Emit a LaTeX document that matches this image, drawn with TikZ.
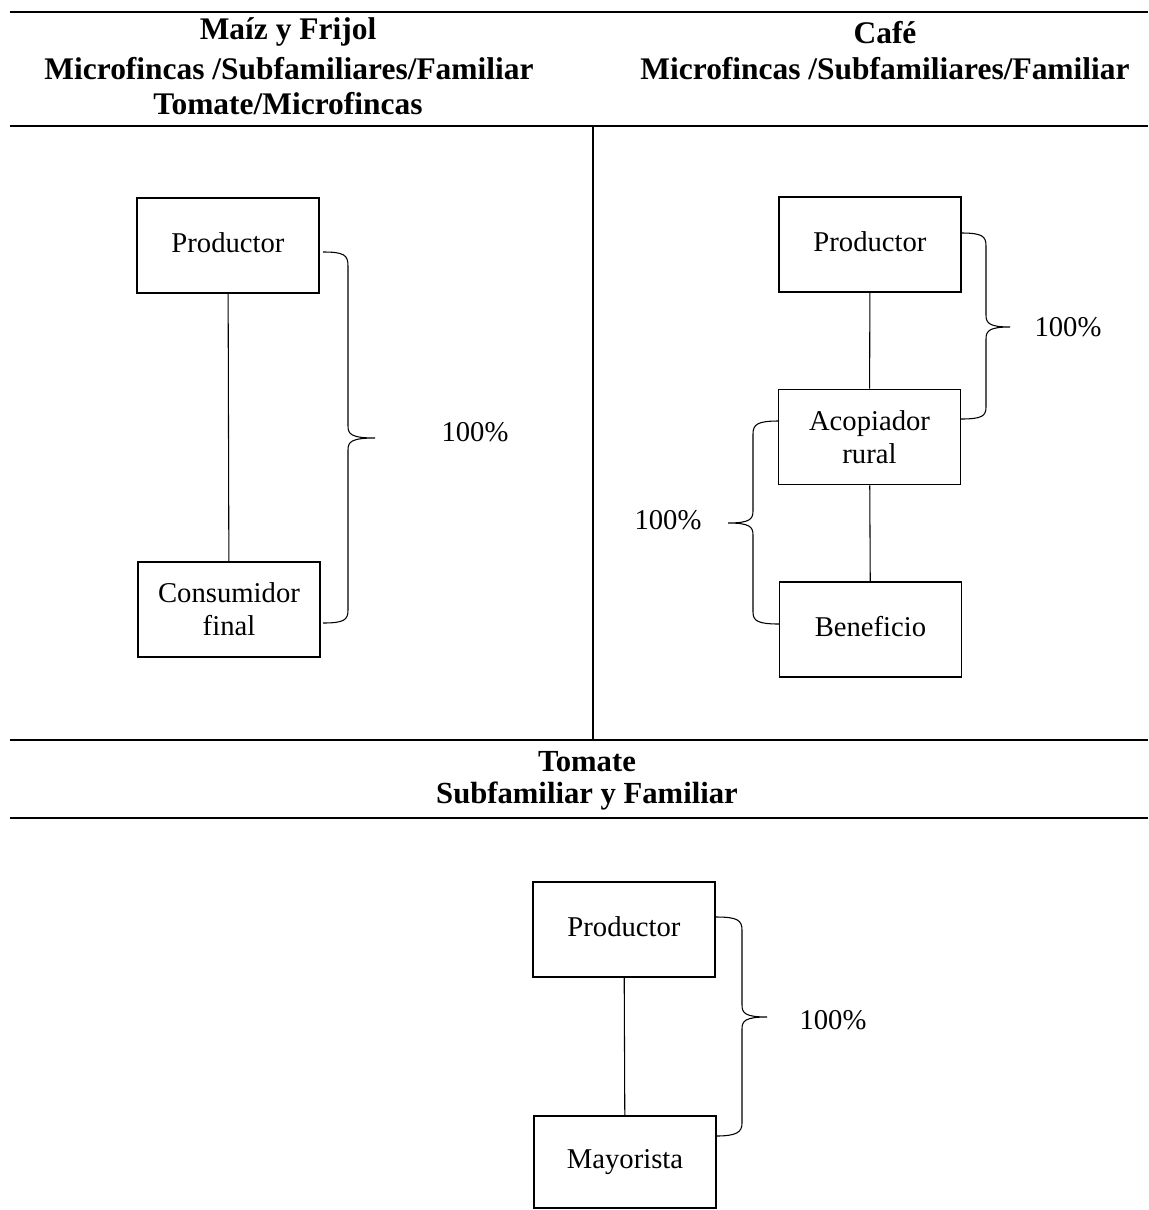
\documentclass[tikz,border=0pt]{standalone}
\usepackage{fontspec}
\setmainfont{Liberation Serif}
\begin{document}
\begin{tikzpicture}[x=0.75pt,y=-0.75pt,
  box/.style={draw,line width=1.1pt,minimum width=136.5pt,minimum height=71.5pt,inner sep=0pt,align=center,font=\fontsize{21.5}{24.5}\selectfont},
  rule/.style={line width=1.6pt},
  conn/.style={line width=0.8pt},
  brace/.style={line width=0.8pt},
  hdr/.style={font=\fontsize{23.6}{25.5}\selectfont\bfseries,inner sep=0pt,anchor=center},
  hdrb/.style={font=\fontsize{23}{25.5}\selectfont\bfseries,inner sep=0pt,anchor=center},
  pct/.style={font=\fontsize{21.5}{24.5}\selectfont,inner sep=0pt}]
\useasboundingbox (0,0) rectangle (1149,1210);
% rules
\coordinate (t1a) at (10,12); \coordinate (t1b) at (1148,12);
\coordinate (t2a) at (10,126); \coordinate (t2b) at (1148,126);
\coordinate (t3a) at (10,740); \coordinate (t3b) at (1148,740);
\coordinate (t4a) at (10,818); \coordinate (t4b) at (1148,818);
\coordinate (va) at (593,127); \coordinate (vb) at (593,739);
\draw[rule] (t1a) -- (t1b);
\draw[rule] (t2a) -- (t2b);
\draw[rule] (t3a) -- (t3b);
\draw[rule] (t4a) -- (t4b);
\draw[rule] (va) -- (vb);
% headers
\node[hdr] (h1) at (288,32) {Maíz y Frijol};
\node[hdr] (h2) at (289,69) {Microfincas /Subfamiliares/Familiar};
\node[hdr] (h3) at (288,104) {Tomate/Microfincas};
\node[hdr] (h4) at (885,33) {Café};
\node[hdr] (h5) at (885,69) {Microfincas /Subfamiliares/Familiar};
\node[hdrb] (h6) at (587,762) {Tomate};
\node[hdrb] (h7) at (587,796) {Subfamiliar y Familiar};
% left diagram
\node[box] (L1) at (228,245.5) {\raisebox{5pt}{Productor}};
\node[box] (L2) at (229,609.5) {Consumidor\\final};
\draw[conn] (L1) -- (L2);
\draw[brace] (323,252) .. controls (344,252) and (348,255) .. (348,266) -- (348,426)
  .. controls (348,434) and (351,438) .. (375,438)
  .. controls (351,438) and (348,442) .. (348,450) -- (348,610)
  .. controls (348,620) and (344,623) .. (323,623);
\node[pct] (p1) at (475,432) {100\%};
% right diagram
\node[box] (R1) at (870,244.5) {\raisebox{5pt}{Productor}};
\node[box] (R2) at (869.5,437) {Acopiador\\rural};
\node[box] (R3) at (870.5,629.5) {\raisebox{5pt}{Beneficio}};
\draw[conn] (R1) -- (R2);
\draw[conn] (R2) -- (R3);
\draw[brace] (961,233) .. controls (982,233) and (986,236) .. (986,246) -- (986,315)
  .. controls (986,323) and (989,327) .. (1010,327)
  .. controls (989,327) and (986,331) .. (986,339) -- (986,407)
  .. controls (986,416) and (982,419) .. (961,419);
\node[pct] (p2) at (1068,327) {100\%};
\draw[brace] (779,421) .. controls (758,421) and (753,424) .. (753,434) -- (753,511)
  .. controls (753,519) and (750,523) .. (728,523)
  .. controls (750,523) and (753,527) .. (753,535) -- (753,612)
  .. controls (753,621) and (758,624) .. (779,624);
\node[pct] (p3) at (668,520) {100\%};
% bottom diagram
\node[box] (B1) at (624,929.5) {\raisebox{5pt}{Productor}};
\node[box,minimum height=69pt] (B2) at (625,1162) {\raisebox{3pt}{Mayorista}};
\draw[conn] (B1) -- (B2);
\draw[brace] (716,917) .. controls (737,917) and (742,920) .. (742,930) -- (742,1005)
  .. controls (742,1013) and (745,1017) .. (767,1017)
  .. controls (745,1017) and (742,1021) .. (742,1029) -- (742,1123)
  .. controls (742,1132) and (737,1136) .. (716,1136);
\node[pct] (p4) at (833,1020) {100\%};
\end{tikzpicture}
\end{document}
